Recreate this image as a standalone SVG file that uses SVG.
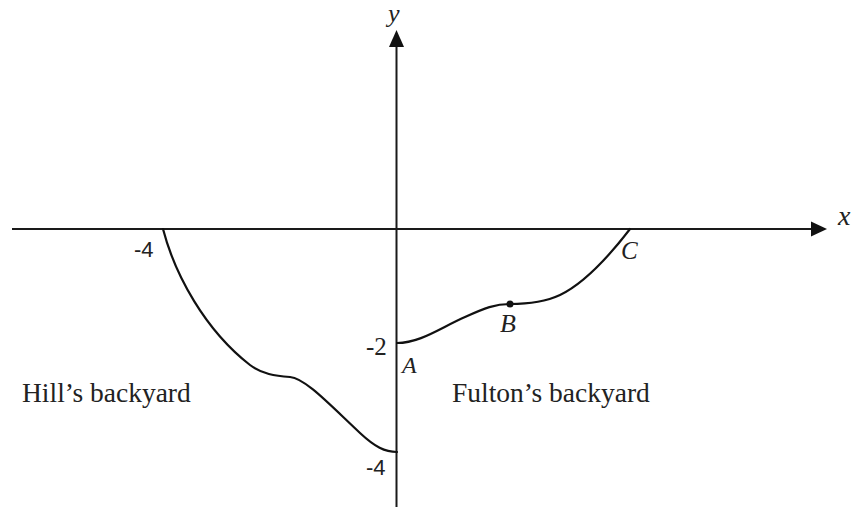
<svg xmlns="http://www.w3.org/2000/svg" width="856" height="511" viewBox="0 0 856 511">
<style>
.ax{stroke:#1a1a1a;stroke-width:2;fill:none}
.cv{stroke:#111;stroke-width:2.2;fill:none;stroke-linecap:round}
.head{fill:#111}
.serif{font-family:"Liberation Serif","Times New Roman",serif;fill:#222}
.it{font-family:"Liberation Serif","Times New Roman",serif;font-style:italic;fill:#222}
.sans{font-family:"Liberation Sans",Arial,sans-serif;fill:#222}
</style>
<g id="axes">
<line class="ax" x1="12" y1="229" x2="814" y2="229"/>
<polygon class="head" points="827,229 811,221.5 811,236.5"/>
<line class="ax" x1="396.5" y1="45" x2="396.5" y2="507"/>
<polygon class="head" points="396.5,30 389,47 404,47"/>
<text class="it" x="838" y="225" font-size="28">x</text>
<text class="it" x="388" y="22" font-size="26">y</text>
</g>
<g id="curves">
<path class="cv" d="M163,229 C175,275 205,330 250,365 C262,374 275,376 290,377 C305,378 330,405 360,433 C375,447 385,452 397,452"/>
<path class="cv" d="M397,343 C420,343 440,328 465,317 C485,308 495,304 510,304 C530,304 545,302 560,295 C585,283 610,255 630,229"/>
<circle cx="510" cy="304" r="3.5" fill="#111"/>
</g>
<g id="labels">
<text class="sans" x="134" y="257" font-size="22">-4</text>
<text class="sans" x="366" y="475" font-size="22">-4</text>
<text class="serif" x="366" y="355" font-size="25">-2</text>
<text class="it" x="402" y="373" font-size="24">A</text>
<text class="it" x="500" y="332" font-size="26">B</text>
<text class="it" x="621" y="259" font-size="25">C</text>
<text class="serif" x="22" y="402" font-size="27.5">Hill’s backyard</text>
<text class="serif" x="452" y="402" font-size="27.5">Fulton’s backyard</text>
</g>
</svg>
